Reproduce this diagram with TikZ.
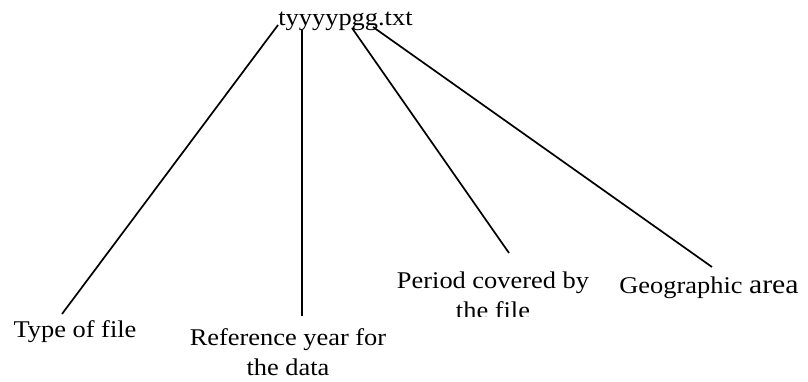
\documentclass[tikz,border=0pt]{standalone}
\usepackage{fontspec}
\setmainfont{Liberation Serif}[FakeStretch=1.1]

\begin{document}
\begin{tikzpicture}[
    x=1pt, y=-1pt,
    font=\fontsize{24}{30}\selectfont,
    lbl/.style={inner sep=0pt, anchor=base, align=center},
    link/.style={line width=1.7pt, black},
]
\useasboundingbox (0,0) rectangle (808,381);

% === FILE NAME ===
\node[lbl] (fname) at (345.5,25) {tyyyypgg.txt};

% Parts of the name
\coordinate (tpos) at (278,25);
\coordinate (ypos) at (302,30);
\coordinate (ppos) at (352,28);
\coordinate (gpos) at (373,27);

% === LABELS ===
% (two-line labels sit on their last line)
\node[lbl] (type) at (75,337) {Type of file};
\node[lbl] (refyear) at (288,375) {Reference year for\\the data};
\begin{scope}
    \clip (380,255) rectangle (600,316);
    \node[lbl] (period) at (493,318) {Period covered by\\the file};
\end{scope}
\node[lbl] (geo) at (709,293) {Geographic {\fontsize{27}{30}\selectfont area}};

% Line ends above the labels
\coordinate (typeend) at (62,314);
\coordinate (refend) at (302,316);
\coordinate (periodend) at (509,253);
\coordinate (geoend) at (712,267);

% === LINKS ===
\draw[link] (tpos) -- (typeend);
\draw[link] (ypos) -- (refend);
\draw[link] (ppos) -- (periodend);
\draw[link] (gpos) -- (geoend);

\end{tikzpicture}
\end{document}
